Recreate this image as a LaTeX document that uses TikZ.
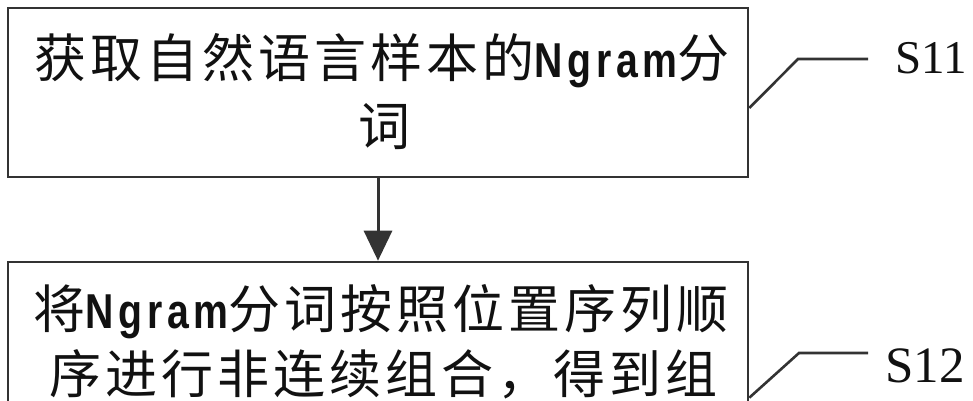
\documentclass[tikz,border=0pt]{standalone}
\usepackage{fontspec}
\setmainfont{Liberation Serif}
\newfontfamily\cjk[LetterSpace=7.7]{Noto Sans CJK SC}
\newfontfamily\latb[FakeStretch=0.8,LetterSpace=10]{Liberation Sans Bold}
\usetikzlibrary{arrows.meta,calc}
\definecolor{ink}{HTML}{333333}
\definecolor{txtc}{HTML}{111111}
\tikzset{
  boxstyle/.style={draw=ink, line width=2.6pt, inner sep=0pt, fill=none},
  txt/.style={anchor=base, inner sep=0pt, text=txtc, font=\fontsize{52}{52}\cjk},
  lead/.style={draw=ink, line width=2.6pt},
  arr/.style={draw=ink, line width=3pt, -{Triangle[width=28pt,length=30pt]}},
  lab/.style={anchor=base west, inner sep=0pt, text=txtc}
}
\newcommand\ngr{{\fontsize{49}{49}\latb Ngram}}
\begin{document}
\begin{tikzpicture}[x=1pt,y=-1pt]
\useasboundingbox (0,0) rectangle (973,400);
\fill[white] (0,0) rectangle (973,400);
\clip (0,0) rectangle (973,400);
% boxes
\node[boxstyle, minimum width=740pt, minimum height=169pt] (box1) at (378,92.5) {};
\node[boxstyle, minimum width=740pt, minimum height=200pt] (box2) at (378,362) {};
% texts
\node[txt] (t1a) at (382,77) {获取自然语言样本的\ngr 分};
\node[txt] (t1b) at (384,145) {词};
\node[txt] (t2a) at (381,328) {将\ngr 分词按照位置序列顺};
\node[txt] (t2b) at (384,393) {序进行非连续组合，得到组};
% arrow
\draw[arr] (box1.south) -- (box2.north);
% leaders and labels
\coordinate (k1) at (798,59);
\coordinate (e1) at (868,59);
\coordinate (k2) at (799,353);
\coordinate (e2) at (868,353);
\draw[lead] ($(box1.east)+(0,15.5)$) -- (k1) -- (e1);
\draw[lead] ($(box2.north east)+(0,137)$) -- (k2) -- (e2);
\node[lab, font=\fontsize{47}{47}\selectfont] (s11) at (895,73) {S11};
\node[lab, font=\fontsize{51}{51}\selectfont] (s12) at (885,382) {S12};
\end{tikzpicture}
\end{document}
